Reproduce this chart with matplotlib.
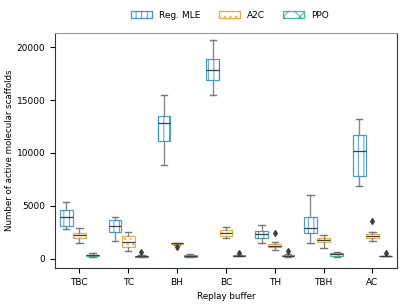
import matplotlib
matplotlib.use("Agg")
import matplotlib.pyplot as plt
from matplotlib.patches import Patch

buffers = ["TBC", "TC", "BH", "BC", "TH", "TBH", "AC"]
methods = ["Reg. MLE", "A2C", "PPO"]

# five-number summaries: (whislo, q1, med, q3, whishi)
reg_mle = [
    (2800, 3130, 3900, 4550, 5400),
    (1680, 2490, 3060, 3670, 3980),
    (8880, 11090, 12860, 13490, 15520),
    (15480, 16850, 17890, 18840, 20640),
    (1490, 1990, 2340, 2620, 3190),
    (1490, 2400, 2870, 3980, 5970),
    (6830, 7770, 10140, 11730, 13240),
]
a2c = [
    (1490, 1960, 2250, 2430, 2870),
    (730, 1140, 1550, 2150, 2490),
    (1330, 1400, 1450, 1480, 1520),
    (1920, 2180, 2430, 2720, 3030),
    (820, 1070, 1230, 1390, 1550),
    (980, 1580, 1800, 1960, 2250),
    (1680, 1920, 2110, 2340, 2560),
]
ppo = [
    (190, 220, 300, 380, 540),
    (150, 160, 200, 260, 330),
    (130, 160, 250, 380, 420),
    (250, 260, 280, 300, 320),
    (190, 200, 280, 360, 400),
    (190, 260, 400, 570, 620),
    (240, 250, 260, 270, 280),
]
a2c_fliers = [[], [], [1070], [], [2430], [], [3510]]
ppo_fliers = [[], [600], [], [500], [760], [], [500]]
reg_fliers = [[], [], [], [], [], [], []]

colors = ["#0173b2", "#de8f05", "#029e73"]
hatches = ["|||", "...", "xx"]
offsets = [-0.27, 0.0, 0.27]

plt.rcParams["font.size"] = 6.5
plt.rcParams["hatch.linewidth"] = 0.7

fig = plt.figure(figsize=(4.07, 3.05), dpi=100)
ax = fig.add_axes([0.135, 0.121, 0.84, 0.771])

for k, (summ, fl) in enumerate([(reg_mle, reg_fliers), (a2c, a2c_fliers), (ppo, ppo_fliers)]):
    stats = []
    for (lo, q1, med, q3, hi), f in zip(summ, fl):
        stats.append(dict(whislo=lo, q1=q1, med=med, q3=q3, whishi=hi, fliers=f))
    pos = [i + offsets[k] for i in range(len(buffers))]
    bp = ax.bxp(stats, positions=pos, widths=0.26, patch_artist=True,
                manage_ticks=False,
                boxprops=dict(facecolor="white", edgecolor=colors[k], linewidth=0.9,
                              hatch=hatches[k], alpha=0.7),
                whiskerprops=dict(color="#888888", linewidth=1.0),
                capprops=dict(color="#777777", linewidth=1.0),
                medianprops=dict(color="#3f3f3f", linewidth=0.9),
                flierprops=dict(marker="d", markersize=3, markerfacecolor="#3f3f3f",
                                markeredgecolor="#3f3f3f"))
    for w in bp["caps"]:
        x = w.get_xdata()
        c = (x[0] + x[1]) / 2
        w.set_xdata([c - 0.065, c + 0.065])

ax.set_xticks(range(len(buffers)))
ax.set_xticklabels(buffers)
ax.set_xlim(-0.5, 6.5)
ax.set_ylim(-900, 21350)
ax.set_yticks([0, 5000, 10000, 15000, 20000])
ax.set_xlabel("Replay buffer", fontsize=6.3)
ax.set_ylabel("Number of active molecular scaffolds", fontsize=6.2, labelpad=2)
for s in ax.spines.values():
    s.set_color("#333333")
ax.spines["top"].set_color("#999999")

handles = [Patch(facecolor="white", edgecolor=c, hatch=h, alpha=0.7, label=m)
           for c, h, m in zip(colors, hatches, methods)]
fig.legend(handles=handles, loc="center", bbox_to_anchor=(0.565, 0.95), ncol=3,
           frameon=False, fontsize=6.5, handlelength=2.3, columnspacing=2.0)

fig.savefig("out.png", dpi=100)
